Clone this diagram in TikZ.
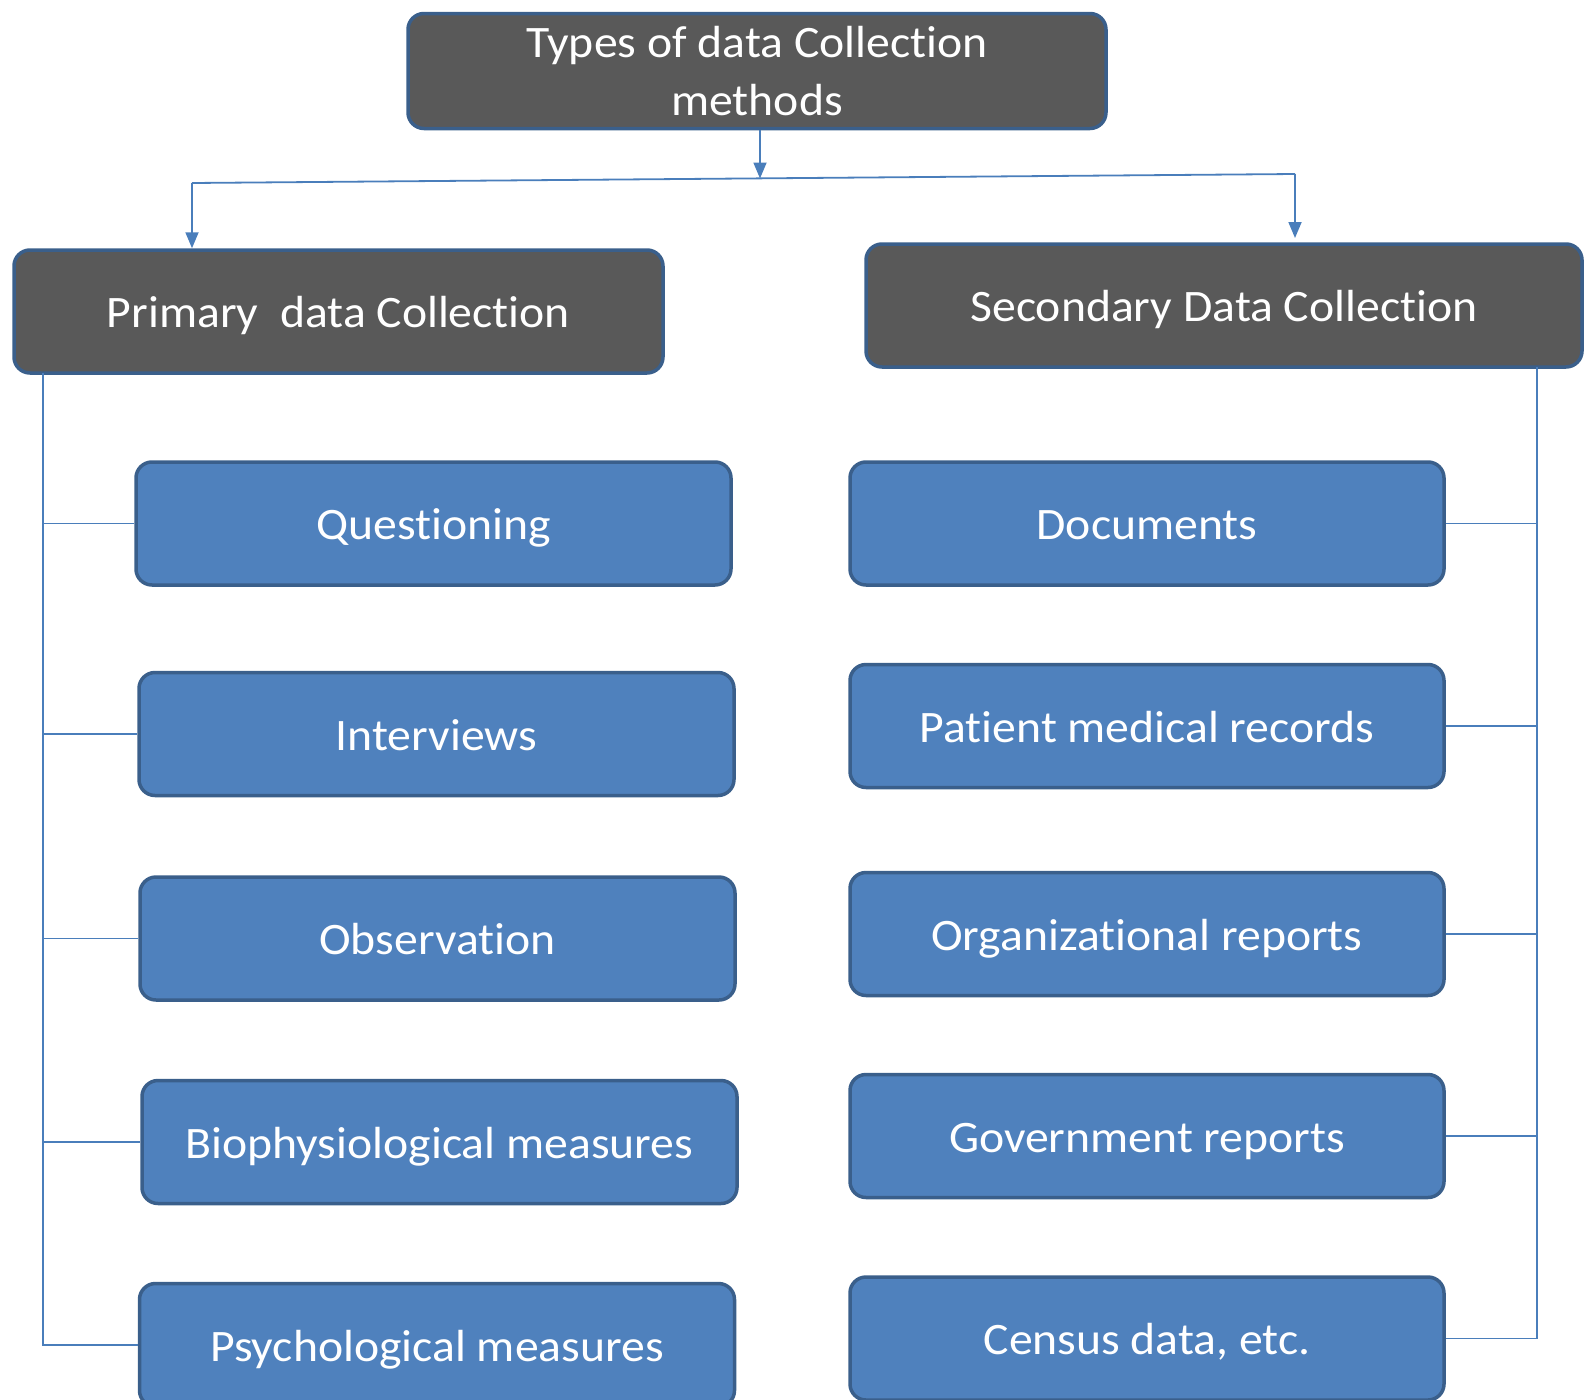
\documentclass[tikz,border=0pt]{standalone}
\usepackage{fontspec}
\setmainfont{Carlito}[Ligatures=NoCommon, FakeStretch=1.06]
\usetikzlibrary{arrows.meta}
\definecolor{boxgray}{HTML}{595959}
\definecolor{boxblue}{HTML}{4F81BD}
\definecolor{edgeblue}{HTML}{3A5F8B}
\definecolor{linkblue}{HTML}{4A7EBB}
\tikzset{
  headbox/.style={draw=edgeblue, line width=3.5pt, fill=boxgray, rounded corners=16pt,
    text=white, align=center, font=\fontsize{45}{58}\selectfont},
  onerow/.style={text height=32pt, text depth=0pt},
  itembox/.style={draw=edgeblue, line width=3.5pt, fill=boxblue, rounded corners=16pt,
    text=white, align=center, minimum height=123pt, onerow, font=\fontsize{45}{54}\selectfont},
  link/.style={draw=linkblue, line width=1.8pt},
  arr/.style={link, -{Triangle[length=16pt, width=13pt]}}
}
\begin{document}
\begin{tikzpicture}[x=1pt, y=-1pt]
  \useasboundingbox (0,0) rectangle (1585,1400);
  % heads
  \node[headbox, minimum width=698pt, minimum height=115pt] (top) at (757,71) {Types of data Collection\\methods};
  \node[headbox, onerow, minimum width=649pt, minimum height=123pt] (primary) at (338.5,311.5) {Primary\ \ data Collection};
  \node[headbox, onerow, minimum width=716pt, minimum height=123pt] (secondary) at (1224,305.5) {Secondary Data Collection};
  % primary items
  \node[itembox, minimum width=595pt] (quest) at (433.5,523.5) {Questioning};
  \node[itembox, minimum width=595pt] (interv) at (436.5,734) {Interviews};
  \node[itembox, minimum width=595pt] (observ) at (437.5,938.5) {Observation};
  \node[itembox, minimum width=595pt] (biophys) at (439.5,1142) {Biophysiological measures};
  \node[itembox, minimum width=595pt] (psych) at (437,1345) {Psychological measures};
  % secondary items
  \node[itembox, minimum width=594pt] (docs) at (1147,523.5) {Documents};
  \node[itembox, minimum width=594pt] (records) at (1147,726) {Patient medical records};
  \node[itembox, minimum width=594pt] (orgrep) at (1147,934) {Organizational reports};
  \node[itembox, minimum width=594pt] (govrep) at (1147,1136) {Government reports};
  \node[itembox, minimum width=594pt] (census) at (1147,1338.5) {Census data, etc.};
  % split under the top box
  \coordinate (busL) at (192,183);
  \coordinate (busM) at (760,178.5);
  \coordinate (busR) at (1295,174);
  \coordinate (secIn) at (1295,238);
  \draw[arr] (top.south -| busM) -- (busM);
  \draw[link] (busL) -- (busR);
  \draw[arr] (busL) -- (busL |- primary.north);
  \draw[arr] (busR) -- (secIn);
  % left bus
  \coordinate (lbus) at (43,373);
  \draw[link] (lbus) -- (lbus |- psych) -- (psych.west);
  \foreach \n in {quest, interv, observ, biophys}
    \draw[link] (lbus |- \n) -- (\n.west);
  % right bus
  \coordinate (rbus) at (1537,367);
  \draw[link] (rbus) -- (rbus |- census) -- (census.east);
  \foreach \n in {docs, records, orgrep, govrep}
    \draw[link] (rbus |- \n) -- (\n.east);
\end{tikzpicture}
\end{document}
